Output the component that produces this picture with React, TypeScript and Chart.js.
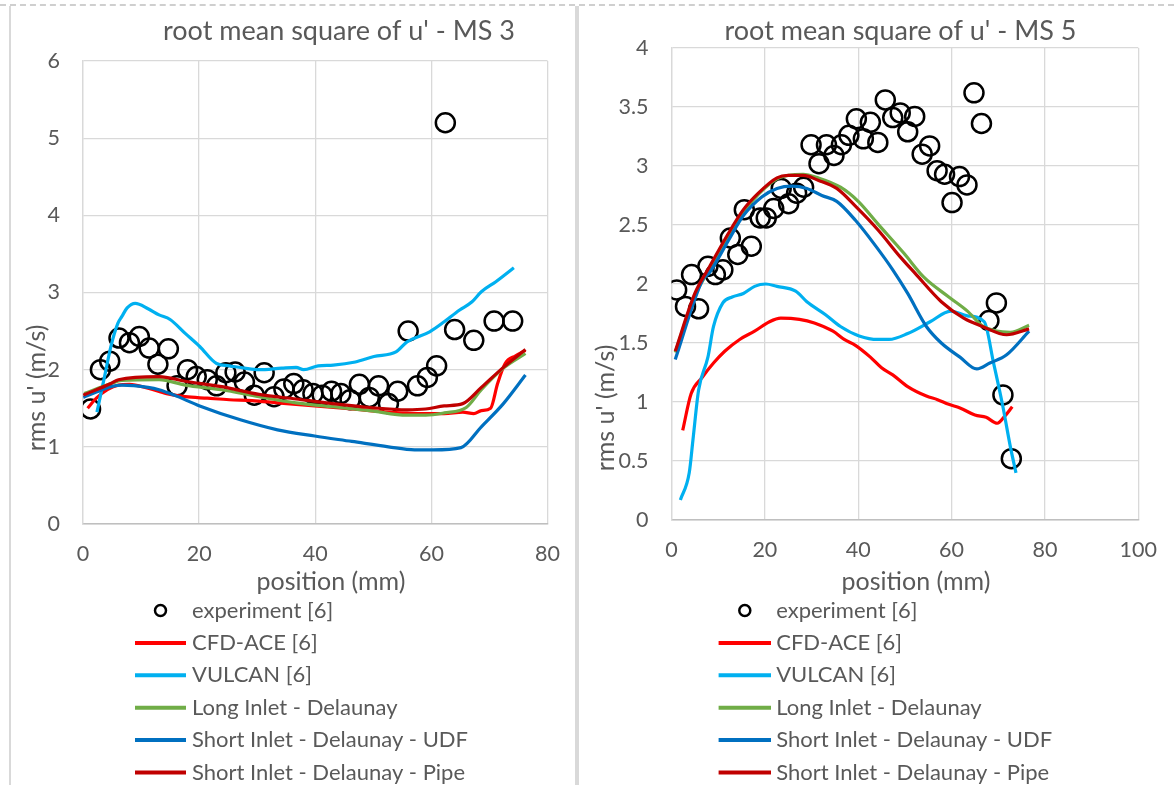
import React, { useEffect, useRef } from 'react';
import { Chart, registerables } from 'chart.js';
Chart.register(...registerables);

const FONT = "Lato, 'Open Sans', sans-serif";
const TEXT = '#595959';
const GRID = '#d9d9d9';

const seriesLabels = [
  'experiment [6]',
  'CFD-ACE [6]',
  'VULCAN [6]',
  'Long Inlet - Delaunay',
  'Short Inlet - Delaunay - UDF',
  'Short Inlet - Delaunay - Pipe',
];
const seriesColors = ['#000000', '#FF0000', '#00B0F0', '#70AD47', '#0070C0', '#C00000'];

// ---------- MS 3 ----------
const ms3ExpX = [1.3, 3.0, 4.6, 6.2, 8.0, 9.7, 11.4, 12.9, 14.7, 16.2, 18.0, 19.5, 21.4, 23.0, 24.6, 26.2, 27.8, 29.5, 31.2, 32.9, 34.6, 36.3, 37.9, 39.6, 41.2, 42.8, 44.4, 46.0, 47.6, 49.3, 50.9, 52.6, 54.2, 56.0, 57.6, 59.3, 60.9, 62.4, 64.0, 67.3, 70.8, 74.0];
const ms3ExpY = [1.49, 2.00, 2.11, 2.41, 2.35, 2.43, 2.28, 2.07, 2.27, 1.79, 2.00, 1.91, 1.87, 1.79, 1.96, 1.97, 1.84, 1.67, 1.96, 1.65, 1.75, 1.82, 1.74, 1.69, 1.67, 1.72, 1.69, 1.61, 1.81, 1.64, 1.79, 1.56, 1.72, 2.50, 1.79, 1.90, 2.05, 5.20, 2.52, 2.38, 2.63, 2.63];

const ms3CfdX = [0.8, 2.3, 4.2, 6.1, 8.0, 11.2, 14.4, 17.6, 21.4, 25.2, 29.1, 33.5, 39.9, 46.3, 52.6, 59.0, 62.2, 65.4, 67.3, 68.6, 70.2, 71.4, 72.7, 74.5, 76.2];
const ms3CfdY = [1.50, 1.63, 1.74, 1.80, 1.81, 1.76, 1.69, 1.65, 1.63, 1.61, 1.60, 1.57, 1.53, 1.49, 1.45, 1.43, 1.43, 1.45, 1.43, 1.47, 1.50, 1.82, 2.08, 2.18, 2.25];

const ms3VulX = [2.4, 3.6, 4.8, 6.0, 6.7, 7.6, 9.0, 11.2, 13.1, 15.0, 17.6, 20.1, 23.0, 25.2, 27.8, 30.3, 34.2, 36.7, 38.0, 40.5, 43.1, 46.9, 50.1, 53.9, 55.8, 59.7, 62.2, 64.8, 67.0, 68.6, 71.1, 74.2];
const ms3VulY = [1.45, 1.87, 2.30, 2.60, 2.69, 2.80, 2.86, 2.79, 2.71, 2.65, 2.47, 2.30, 2.08, 2.05, 2.02, 2.00, 2.02, 2.03, 2.00, 2.05, 2.06, 2.10, 2.17, 2.23, 2.36, 2.49, 2.62, 2.77, 2.88, 3.01, 3.14, 3.32];

const ms3LongX = [0.2, 4.8, 6.7, 13.1, 17.6, 23.9, 30.3, 36.7, 43.0, 49.4, 55.8, 59.0, 62.2, 66.0, 68.6, 72.4, 76.2];
const ms3LongY = [1.69, 1.82, 1.86, 1.87, 1.80, 1.74, 1.65, 1.57, 1.52, 1.47, 1.41, 1.41, 1.44, 1.51, 1.74, 2.02, 2.21];

const ms3UdfX = [0.05, 2.3, 4.8, 6.7, 11.2, 13.1, 15.7, 20.1, 27.1, 33.5, 39.9, 46.3, 52.6, 57.1, 60.3, 65.1, 68.6, 72.4, 76.2];
const ms3UdfY = [1.64, 1.71, 1.78, 1.80, 1.77, 1.74, 1.67, 1.53, 1.35, 1.22, 1.14, 1.07, 1.00, 0.96, 0.96, 0.99, 1.26, 1.56, 1.93];

const ms3PipeX = [0.05, 4.8, 6.1, 13.1, 17.6, 23.9, 30.3, 36.7, 43.0, 49.4, 55.8, 59.0, 62.2, 65.4, 68.6, 72.4, 76.2];
const ms3PipeY = [1.67, 1.82, 1.87, 1.91, 1.85, 1.78, 1.68, 1.62, 1.56, 1.51, 1.48, 1.49, 1.53, 1.56, 1.77, 2.03, 2.26];

// ---------- MS 5 ----------
const ms5ExpX = [1.1, 3.0, 4.3, 5.8, 7.8, 9.4, 11.0, 12.6, 14.2, 15.6, 17.1, 19.0, 20.3, 21.9, 23.5, 25.1, 26.8, 28.3, 29.9, 31.6, 33.2, 34.8, 36.4, 38.0, 39.6, 41.1, 42.6, 44.2, 45.8, 47.4, 49.0, 50.6, 52.1, 53.7, 55.3, 56.9, 58.5, 60.1, 61.7, 63.3, 64.8, 66.4, 68.0, 69.6, 71.0, 72.8];
const ms5ExpY = [1.95, 1.81, 2.08, 1.79, 2.15, 2.08, 2.12, 2.39, 2.25, 2.63, 2.32, 2.56, 2.56, 2.64, 2.81, 2.68, 2.77, 2.82, 3.18, 3.02, 3.18, 3.09, 3.18, 3.26, 3.40, 3.23, 3.37, 3.20, 3.56, 3.41, 3.45, 3.29, 3.42, 3.10, 3.17, 2.96, 2.93, 2.69, 2.91, 2.84, 3.62, 3.36, 1.69, 1.84, 1.06, 0.52];

const ms5CfdX = [2.4, 4.2, 6.6, 9.0, 11.4, 14.6, 17.8, 21.0, 23.4, 27.4, 30.6, 34.6, 37.0, 39.4, 42.6, 45.0, 47.4, 50.6, 54.6, 57.0, 59.4, 61.8, 65.0, 67.4, 69.8, 71.4, 73.0];
const ms5CfdY = [0.76, 1.07, 1.21, 1.33, 1.43, 1.53, 1.60, 1.68, 1.71, 1.70, 1.67, 1.60, 1.53, 1.48, 1.38, 1.29, 1.23, 1.13, 1.05, 1.02, 0.98, 0.95, 0.89, 0.87, 0.82, 0.88, 0.96];

const ms5VulX = [1.9, 3.8, 4.6, 5.8, 7.8, 9.0, 11.0, 13.0, 15.4, 17.8, 20.2, 22.6, 26.6, 29.0, 33.0, 36.2, 40.2, 44.2, 46.6, 50.6, 55.4, 59.8, 63.4, 67.0, 69.0, 71.0, 72.6, 73.8];
const ms5VulY = [0.17, 0.40, 0.68, 1.10, 1.38, 1.64, 1.84, 1.89, 1.92, 1.98, 2.00, 1.98, 1.94, 1.85, 1.74, 1.64, 1.56, 1.53, 1.53, 1.58, 1.68, 1.77, 1.73, 1.68, 1.33, 0.96, 0.62, 0.40];

const ms5LongX = [0.8, 5.0, 8.2, 12.2, 15.4, 18.6, 22.6, 25.0, 28.2, 31.4, 36.2, 40.0, 44.2, 49.8, 54.0, 59.4, 63.4, 66.8, 72.6, 76.6];
const ms5LongY = [1.42, 1.90, 2.13, 2.41, 2.61, 2.76, 2.89, 2.92, 2.93, 2.90, 2.82, 2.70, 2.51, 2.26, 2.06, 1.89, 1.77, 1.64, 1.59, 1.65];

const ms5UdfX = [0.8, 6.6, 8.2, 12.2, 15.4, 19.4, 22.6, 25.8, 29.0, 32.2, 35.4, 39.4, 43.4, 47.4, 50.6, 54.6, 57.8, 61.8, 65.4, 68.2, 71.8, 76.6];
const ms5UdfY = [1.36, 2.03, 2.10, 2.37, 2.58, 2.74, 2.81, 2.83, 2.81, 2.75, 2.70, 2.54, 2.34, 2.12, 1.92, 1.64, 1.50, 1.38, 1.28, 1.33, 1.40, 1.60];

const ms5PipeX = [0.8, 5.0, 8.2, 12.2, 15.4, 18.6, 22.6, 25.0, 28.2, 31.4, 35.4, 39.4, 44.2, 49.0, 52.2, 57.8, 62.6, 66.6, 71.8, 76.6];
const ms5PipeY = [1.43, 1.92, 2.15, 2.43, 2.63, 2.77, 2.90, 2.92, 2.92, 2.88, 2.81, 2.66, 2.46, 2.23, 2.09, 1.85, 1.71, 1.64, 1.57, 1.62];

const ms3Series = [
  [ms3ExpX, ms3ExpY], [ms3CfdX, ms3CfdY], [ms3VulX, ms3VulY],
  [ms3LongX, ms3LongY], [ms3UdfX, ms3UdfY], [ms3PipeX, ms3PipeY],
];
const ms5Series = [
  [ms5ExpX, ms5ExpY], [ms5CfdX, ms5CfdY], [ms5VulX, ms5VulY],
  [ms5LongX, ms5LongY], [ms5UdfX, ms5UdfY], [ms5PipeX, ms5PipeY],
];

const ms3XTicks = { min: 0, max: 80, step: 20 };
const ms3YTicks = { min: 0, max: 6, step: 1 };
const ms5XTicks = { min: 0, max: 100, step: 20 };
const ms5YTicks = { min: 0, max: 4, step: 0.5 };

const decorPlugin = {
  id: 'decor',
  afterDraw(chart: any, _args: any, o: any) {
    const ctx = chart.ctx;
    ctx.save();
    ctx.fillStyle = TEXT;
    ctx.textAlign = 'center';
    ctx.textBaseline = 'middle';
    ctx.font = `${o.titleSize}px ${FONT}`;
    ctx.fillText(o.title, o.titleX, o.titleY);
    ctx.font = `${o.axisSize}px ${FONT}`;
    ctx.fillText(o.xTitle, o.xTitleX, o.xTitleY);
    ctx.save();
    ctx.translate(o.yTitleX, o.yTitleY);
    ctx.rotate(-Math.PI / 2);
    ctx.fillText(o.yTitle, 0, 0);
    ctx.restore();
    // legend
    ctx.font = `${o.legendSize}px ${FONT}`;
    ctx.textAlign = 'left';
    chart.data.datasets.forEach((ds: any, i: number) => {
      const y = o.legY0 + i * o.legDy;
      if (ds.showLine === false) {
        ctx.beginPath();
        ctx.arc((o.legX0 + o.legX1) / 2, y, 5.5, 0, Math.PI * 2);
        ctx.strokeStyle = ds.pointBorderColor;
        ctx.lineWidth = 2.5;
        ctx.stroke();
      } else {
        ctx.beginPath();
        ctx.moveTo(o.legX0, y);
        ctx.lineTo(o.legX1, y);
        ctx.strokeStyle = ds.borderColor;
        ctx.lineWidth = 4;
        ctx.stroke();
      }
      ctx.fillStyle = TEXT;
      ctx.fillText(ds.label, o.legText, y);
    });
    ctx.restore();
  },
};

function buildDatasets(series: number[][][]) {
  return series.map(([xs, ys], i) => {
    const data = xs.map((x, k) => ({ x, y: ys[k] }));
    if (i === 0) {
      return {
        label: seriesLabels[i],
        data,
        showLine: false,
        pointRadius: 9.5,
        pointBorderWidth: 2.5,
        pointBorderColor: seriesColors[i],
        pointBackgroundColor: 'rgba(0,0,0,0)',
        order: 10,
      };
    }
    return {
      label: seriesLabels[i],
      data,
      showLine: true,
      borderColor: seriesColors[i],
      backgroundColor: seriesColors[i],
      borderWidth: 3.2,
      pointRadius: 0,
      cubicInterpolationMode: 'monotone',
      order: 6 - i,
    };
  });
}

type PanelProps = {
  series: number[][][];
  xt: { min: number; max: number; step: number };
  yt: { min: number; max: number; step: number };
  width: number;
  height: number;
  padTop: number;
  padRight: number;
  padBottom: number;
  yAxisWidth: number;
  decor: any;
};

function Panel(p: PanelProps) {
  const ref = useRef<HTMLCanvasElement>(null);
  useEffect(() => {
    if (!ref.current) return;
    const tickFont = { family: FONT, size: 21.5 };
    const chart = new Chart(ref.current, {
      type: 'scatter',
      data: { datasets: buildDatasets(p.series) as any },
      options: {
        animation: false,
        responsive: false,
        devicePixelRatio: 1,
        layout: { padding: { top: p.padTop, right: p.padRight, bottom: p.padBottom, left: 0 } },
        plugins: {
          legend: { display: false },
          title: { display: false },
          tooltip: { enabled: false },
          decor: p.decor,
        } as any,
        scales: {
          x: {
            type: 'linear',
            min: p.xt.min,
            max: p.xt.max,
            ticks: { stepSize: p.xt.step, color: TEXT, font: tickFont, padding: 17, callback: (v: any) => String(Number(v)) },
            grid: { color: GRID, lineWidth: 1.3, drawTicks: false },
            border: { color: '#bfbfbf', width: 1.5 },
            afterFit: (s: any) => { s.height = 50; },
          },
          y: {
            type: 'linear',
            min: p.yt.min,
            max: p.yt.max,
            ticks: { stepSize: p.yt.step, color: TEXT, font: tickFont, padding: 23, callback: (v: any) => String(Number(v)) },
            grid: { color: GRID, lineWidth: 1.3, drawTicks: false },
            border: { color: GRID, width: 1.3 },
            afterFit: (s: any) => { s.width = p.yAxisWidth; },
          },
        },
      },
      plugins: [decorPlugin as any],
    });
    return () => chart.destroy();
  }, []);
  return <canvas ref={ref} width={p.width} height={p.height} style={{ display: 'block', width: p.width, height: p.height }} />;
}

export default function App() {
  return (
    <div style={{ position: 'absolute', left: 0, top: 0, width: 1174, height: 785, background: '#fff', overflow: 'hidden' }}>
      <div style={{ position: 'absolute', left: 0, top: 0 }}>
        <Panel
          series={ms3Series}
          xt={ms3XTicks}
          yt={ms3YTicks}
          width={577}
          height={785}
          padTop={61}
          padRight={29}
          padBottom={211}
          yAxisWidth={83}
          decor={{
            title: "root mean square of u' - MS 3", titleX: 339, titleY: 31, titleSize: 27,
            xTitle: 'position (mm)', xTitleX: 331, xTitleY: 582,
            yTitle: "rms u' (m/s)", yTitleX: 37, yTitleY: 388, axisSize: 25,
            legendSize: 22, legY0: 610.5, legDy: 32.4, legX0: 135, legX1: 186, legText: 192,
          }}
        />
      </div>
      <div style={{ position: 'absolute', left: 579, top: 0 }}>
        <Panel
          series={ms5Series}
          xt={ms5XTicks}
          yt={ms5YTicks}
          width={595}
          height={785}
          padTop={48}
          padRight={26}
          padBottom={215}
          yAxisWidth={92.5}
          decor={{
            title: "root mean square of u' - MS 5", titleX: 321.5, titleY: 31, titleSize: 27,
            xTitle: 'position (mm)', xTitleX: 337, xTitleY: 582,
            yTitle: "rms u' (m/s)", yTitleX: 26.5, yTitleY: 408, axisSize: 25,
            legendSize: 22, legY0: 610.5, legDy: 32.4, legX0: 139.6, legX1: 192, legText: 197.2,
          }}
        />
      </div>
      <div style={{ position: 'absolute', left: 0, top: 4, width: 1174, height: 0, borderTop: '2px dashed #cfcfcf' }} />
      <div style={{ position: 'absolute', left: 9, top: 6, width: 2, height: 779, background: GRID }} />
      <div style={{ position: 'absolute', left: 575, top: 6, width: 4, height: 779, background: GRID }} />
    </div>
  );
}
